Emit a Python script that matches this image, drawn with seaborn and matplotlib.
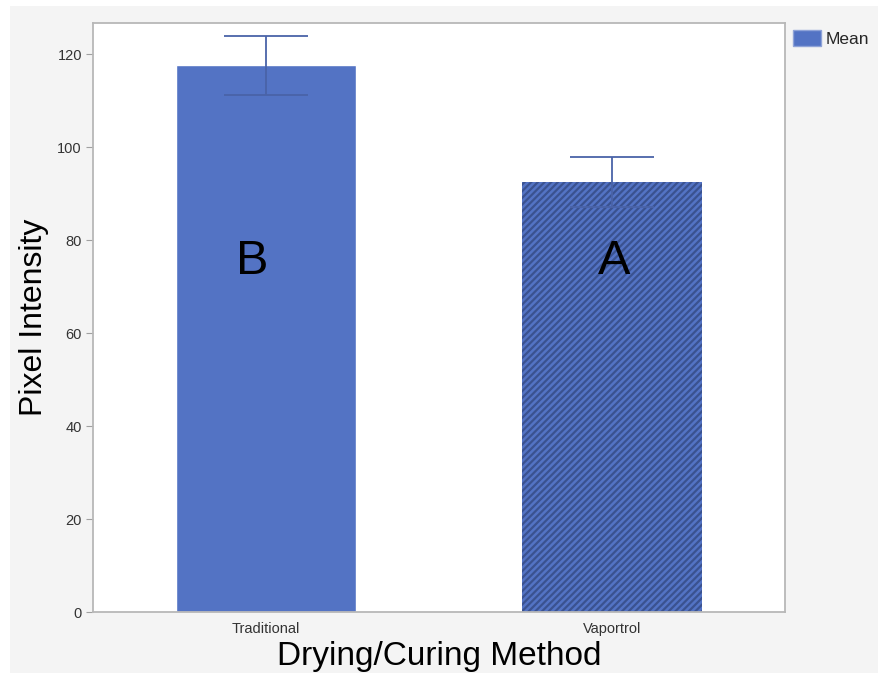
import numpy as np
import pandas as pd
import seaborn as sns
import matplotlib.pyplot as plt
from matplotlib.patches import Rectangle, Patch

methods = ["Traditional", "Vaportrol"]
means = [117.6, 92.6]
err_hi = [124.0, 97.8]
err_lo = [111.2, 87.2]
letters = ["B", "A"]

df = pd.DataFrame({"method": methods, "mean": means})

sns.set_style("white")
plt.rcParams['font.family'] = ['Liberation Sans', 'DejaVu Sans']
plt.rcParams['hatch.linewidth'] = 1.6

bar_color = "#5373c4"
err_color = "#4a63a8"

fig = plt.figure(figsize=(8.79, 6.73), dpi=100, facecolor="white")
fig.patches.append(Rectangle((10 / 879, 0), 1, 1 - 6 / 673, transform=fig.transFigure,
                             facecolor="#f4f4f4", edgecolor="none", zorder=-10))
ax = fig.add_axes([93 / 879, 61 / 673, 692 / 879, 589 / 673])
ax.set_zorder(1)
ax.set_facecolor("white")

sns.barplot(data=df, x="method", y="mean", color=bar_color, width=0.52,
            saturation=1, ax=ax, errorbar=None, zorder=2)
bars = ax.patches
bars[1].set_hatch("/////")
bars[1].set_edgecolor("#3a5290")
bars[1].set_linewidth(0)

m = np.array(means)
ax.errorbar(range(len(methods)), m,
            yerr=[m - np.array(err_lo), np.array(err_hi) - m],
            fmt="none", ecolor=err_color, elinewidth=1.3, capsize=30, capthick=1.3, zorder=3)

for i, t in enumerate(letters):
    ax.text(i - 0.04 if i == 0 else i + 0.005, 75.5, t, ha="center", va="center",
            fontsize=35, color="black", zorder=4)

ax.set_xlim(-0.5, 1.5)
ax.set_ylim(0, 126.7)
ax.set_yticks([0, 20, 40, 60, 80, 100, 120])
ax.set_xlabel("Drying/Curing Method", fontsize=24, labelpad=4, color="black")
ax.set_ylabel("Pixel Intensity", fontsize=23, labelpad=6, color="black")
ax.tick_params(axis="y", length=5, color="#a0a0a0", labelsize=10.5, labelcolor="#333333",
               pad=3, left=True)
ax.tick_params(axis="x", length=0, labelsize=10.5, labelcolor="#333333", pad=7)
for s in ax.spines.values():
    s.set_color("#b8b8b8")
    s.set_linewidth(1.3)

leg = ax.legend(handles=[Patch(facecolor=bar_color, edgecolor="#8fa3d8", label="Mean")],
                loc="upper left", bbox_to_anchor=(0.994, 1.008), frameon=False,
                fontsize=12.5, handlelength=1.6, handleheight=1.0, handletextpad=0.3,
                borderaxespad=0.3)

fig.savefig("out.png", dpi=100, facecolor=fig.get_facecolor())
